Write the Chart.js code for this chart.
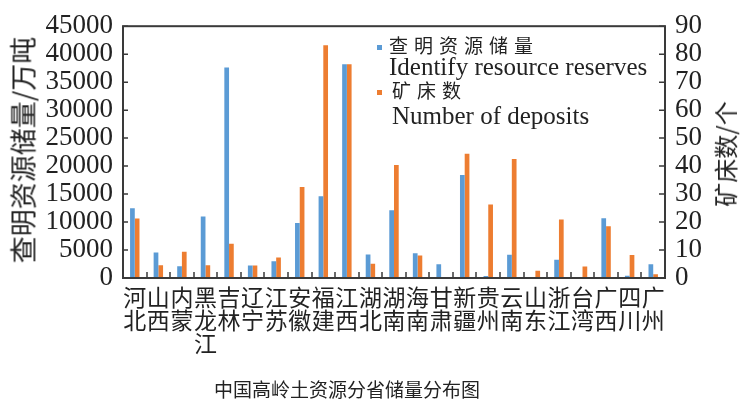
<!DOCTYPE html>
<html>
<head>
<meta charset="utf-8">
<script src="https://cdn.jsdelivr.net/npm/chart.js@4"></script>
<style>
    html, body { margin: 0; padding: 0; background: #fff; }
    #wrap { position: relative; width: 747px; height: 399px; background: #fff; overflow: hidden; }
    #chart { position: absolute; left: 0; top: 0; }
    .txt { position: absolute; white-space: nowrap; color: #222; }
    .cjk { font-family: "Noto Sans CJK SC", sans-serif; }
    .serif { font-family: "Liberation Serif", serif; }
    .vtitle { transform: translate(-50%, -50%) rotate(-90deg); }
    .sq { position: absolute; width: 5px; height: 5px; }
</style>
</head>
<body>
<div id="wrap">
    <canvas id="chart" width="747" height="399"></canvas>

    <!-- axis titles, both read bottom to top -->
    <div class="txt cjk vtitle" style="left:22px; top:150px; font-size:27px; line-height:27px;">查明资源储量/万吨</div>
    <div class="txt cjk vtitle" style="left:725px; top:154px; font-size:24px; line-height:24px;">矿床数/个</div>

    <!-- legend -->
    <div class="sq" style="left:377px; top:45px; background:#5B9BD5;"></div>
    <div class="txt cjk" style="left:389px; top:35px; font-size:19px; line-height:19px; letter-spacing:6px;">查明资源储量</div>
    <div class="txt serif" style="left:389px; top:54px; font-size:25px; line-height:25px;">Identify resource reserves</div>
    <div class="sq" style="left:377px; top:90px; background:#ED7D31;"></div>
    <div class="txt cjk" style="left:392px; top:80px; font-size:19px; line-height:19px; letter-spacing:6px;">矿床数</div>
    <div class="txt serif" style="left:392px; top:103px; font-size:25px; line-height:25px;">Number of deposits</div>

    <!-- caption -->
    <div class="txt cjk" style="left:347px; top:388px; transform:translate(-50%,-50%); font-size:19px; line-height:19px;">中国高岭土资源分省储量分布图</div>
</div>

<script>
const provinces = [
    ['河', '北'], ['山', '西'], ['内', '蒙'], ['黑', '龙', '江'], ['吉', '林'], ['辽', '宁'],
    ['江', '苏'], ['安', '徽'], ['福', '建'], ['江', '西'], ['湖', '北'], ['湖', '南'],
    ['海', '南'], ['甘', '肃'], ['新', '疆'], ['贵', '州'], ['云', '南'], ['山', '东'],
    ['浙', '江'], ['台', '湾'], ['广', '西'], ['四', '川'], ['广', '州']
];

// 查明资源储量 (万吨)
const reserves = [
    12460, 4560, 2100, 11000, 37630, 2220,
    2980, 9820, 14620, 38210, 4210, 12100,
    4440, 2460, 18420, 350, 4150, 0,
    3270, 0, 10700, 410, 2460
];

// 矿床数 (个)
const deposits = [
    21.3, 4.6, 9.4, 4.6, 12.2, 4.5,
    7.3, 32.5, 83.2, 76.4, 5.1, 40.4,
    8.0, 0.4, 44.4, 26.3, 42.5, 2.6,
    20.9, 4.1, 18.5, 8.2, 1.3
];

const leftTicks = [0, 5000, 10000, 15000, 20000, 25000, 30000, 35000, 40000, 45000];
const rightTicks = [0, 10, 20, 30, 40, 50, 60, 70, 80, 90];

Chart.defaults.color = '#222';

// box round the plot plus the short inward tick marks
const frameTicks = {
    id: 'frameTicks',
    afterDatasetsDraw(chart) {
        const { ctx, chartArea: a, scales } = chart;
        ctx.save();
        ctx.strokeStyle = '#3a3a3a';
        ctx.lineWidth = 2;
        ctx.strokeRect(a.left, a.top, a.right - a.left, a.bottom - a.top);

        ctx.lineWidth = 1.5;
        ctx.beginPath();
        const x = scales.x;
        for (let i = 1; i < provinces.length; i++) {
            const px = Math.round((x.getPixelForValue(i - 1) + x.getPixelForValue(i)) / 2);
            ctx.moveTo(px, a.bottom);
            ctx.lineTo(px, a.bottom - 6);
        }
        leftTicks.forEach(v => {
            const py = scales.y.getPixelForValue(v);
            ctx.moveTo(a.left, py);
            ctx.lineTo(a.left + 5, py);
        });
        rightTicks.forEach(v => {
            const py = scales.y1.getPixelForValue(v);
            ctx.moveTo(a.right, py);
            ctx.lineTo(a.right - 6, py);
        });
        ctx.stroke();
        ctx.restore();
    }
};

const tickFont = { family: '"Liberation Serif", serif', size: 27 };

new Chart(document.getElementById('chart'), {
    type: 'bar',
    data: {
        labels: provinces,
        datasets: [
            {
                label: '查明资源储量',
                data: reserves,
                yAxisID: 'y',
                backgroundColor: '#5B9BD5',
                categoryPercentage: 0.4,
                barPercentage: 1.0
            },
            {
                label: '矿床数',
                data: deposits,
                yAxisID: 'y1',
                backgroundColor: '#ED7D31',
                categoryPercentage: 0.4,
                barPercentage: 1.0
            }
        ]
    },
    options: {
        responsive: false,
        animation: false,
        devicePixelRatio: 1,
        layout: { padding: { top: 21, left: 0, right: 0, bottom: 0 } },
        plugins: {
            legend: { display: false },
            tooltip: { enabled: false }
        },
        scales: {
            x: {
                offset: true,
                grid: { display: false, drawTicks: false },
                border: { display: false },
                ticks: {
                    autoSkip: false,
                    maxRotation: 0,
                    padding: 8,
                    font: { family: '"Noto Sans CJK SC", sans-serif', size: 23, lineHeight: 1.0 }
                },
                afterFit(scale) { scale.height = 121; }
            },
            y: {
                position: 'left',
                min: 0,
                max: 45000,
                grid: { display: false, drawTicks: false },
                border: { display: false },
                ticks: {
                    stepSize: 5000,
                    autoSkip: false,
                    padding: 10,
                    font: tickFont,
                    callback: v => String(v)
                },
                afterFit(scale) { scale.width = 123; }
            },
            y1: {
                position: 'right',
                min: 0,
                max: 90,
                grid: { display: false, drawTicks: false },
                border: { display: false },
                ticks: {
                    stepSize: 10,
                    autoSkip: false,
                    padding: 10,
                    font: tickFont,
                    callback: v => String(v)
                },
                afterFit(scale) { scale.width = 82; }
            }
        }
    },
    plugins: [frameTicks]
});
</script>
</body>
</html>
